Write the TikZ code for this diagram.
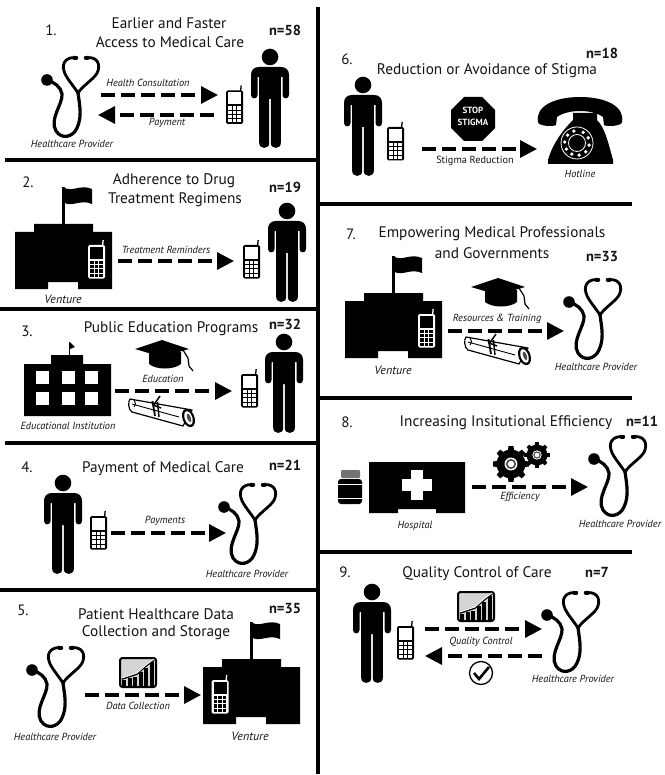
\documentclass[tikz,border=0pt]{standalone}
\usepackage{fontspec}
\setmainfont{PT Sans}
\usetikzlibrary{arrows.meta}
\definecolor{ink}{HTML}{141414}
\tikzset{
  rule/.style={line width=3.2pt,black},
  conn/.style={line width=3.2pt,black,dash pattern=on 14pt off 6pt,-{Triangle[length=17pt,width=17pt]}},
  ttl/.style={font=\fontsize{15.3}{15.3}\selectfont,text=ink,inner sep=0pt},
  num/.style={font=\fontsize{15}{15}\selectfont,text=ink,inner sep=0pt},
  cnt/.style={font=\fontsize{14.5}{14.5}\selectfont\bfseries,text=ink,inner sep=0pt},
  lab/.style={font=\fontsize{10.3}{10.3}\selectfont\itshape,text=ink,inner sep=0pt},
  bigLab/.style={font=\fontsize{12}{12}\selectfont\itshape,text=ink,inner sep=0pt},
  pics/person/.style={code={
    \fill[black] (0,8) circle[radius=8.3];
    \fill[black] (-11,18) .. controls (-16,18) and (-19,21) .. (-19,26) -- (-19,46)
      .. controls (-19,50.5) and (-12.5,50.5) .. (-12.5,46) -- (-12.5,28) -- (-10.8,28) -- (-10.8,94)
      .. controls (-10.8,100.5) and (-0.8,100.5) .. (-0.8,94) -- (-0.8,50) -- (0.8,50) -- (0.8,94)
      .. controls (0.8,100.5) and (10.8,100.5) .. (10.8,94) -- (10.8,28) -- (12.5,28) -- (12.5,46)
      .. controls (12.5,50.5) and (19,50.5) .. (19,46) -- (19,26)
      .. controls (19,21) and (16,18) .. (11,18) -- cycle;
  }},
  pics/handset/.style 2 args={code={
    \fill[#1,rounded corners=1.5pt] (0,0) rectangle (17,33.5);
    \draw[#1,line width=1.3pt] (14.5,1) -- (15.2,-5);
    \fill[#2] (2,2) rectangle (15,14);
    \foreach \r in {0,1,2,3}{\foreach \c in {0,1,2}{
      \fill[#2] ({2.2+\c*4.4},{16+\r*4.2}) rectangle ++(3.6,3.2);
    }}
  }},
  pics/steth/.style={code={
    \draw[black,line width=2.8pt,line cap=round]
      (-5,1) .. controls (-14,-1) and (-21,5) .. (-18,14) .. controls (-16,21) and (-9,28) .. (-4,36);
    \draw[black,line width=2.8pt,line cap=round]
      (3,1) .. controls (12,-1) and (19,4) .. (16,14) .. controls (14,21) and (1,28) .. (-4,36);
    \draw[black,line width=3.8pt] (-9,0.8) -- (-4.5,1);
    \draw[black,line width=3.8pt] (2.5,1) -- (7,0.8);
    \draw[black,line width=3.2pt,line cap=round]
      (-4,36) .. controls (-2,50) and (0,60) .. (-5,71) .. controls (-9,80) and (-20,83) .. (-26,74)
      .. controls (-33,62) and (-19,47) .. (-20,37) .. controls (-21,30) and (-28,25) .. (-35,23);
    \fill[black] (-35,23) circle[radius=5.8];
  }},
  pics/venture/.style={code={
    \fill[black] (0,8) -- (19,8) -- (19,0) -- (78,0) -- (78,8) -- (97,8) -- (97,65) -- (63,65) -- (63,58)
      -- (33,58) -- (33,65) -- (0,65) -- cycle;
    \fill[black] (47,-37) rectangle (49.5,0);
    \fill[black] (49.5,-36) .. controls (58,-32) and (66,-40) .. (77,-35) -- (77,-20)
      .. controls (66,-25) and (58,-17) .. (49.5,-21) -- cycle;
  }},
  pics/gradcap/.style={code={
    \fill[black] (-27,9) -- (0,0) -- (27,9) -- (0,17) -- cycle;
    \fill[black] (-13,12) -- (-13,24) .. controls (-6,30) and (12,30) .. (19,24) -- (19,12) -- cycle;
    \draw[black,line width=1.2pt] (21,10) -- (26,18) -- (27,26) -- (31,31);
  }},
  pics/diploma/.style={code={
    \draw[black,fill=white,line width=1.2pt,line join=round] (1,3) -- (63,14) -- (54,30) -- (3,16)
      .. controls (-1,14) and (-1,5) .. (1,3) -- cycle;
    \draw[black,line width=.9pt] (3,8) -- (50,21);
    \draw[black,line width=.9pt] (5,11) .. controls (7,8) and (7,6) .. (5,4);
    \draw[black,line width=1.8pt] (23.5,5) -- (26,20);
    \draw[black,line width=1.4pt] (28.5,6) -- (30,21);
    \draw[black,line width=1.5pt] (31,0) -- (24,10);
    \draw[black,line width=1.5pt] (24,9) -- (32,12);
    \fill[black,rotate around={20:(59.5,22)}] (59.5,22) ellipse[x radius=6,y radius=9.5];
    \fill[white,rotate around={20:(59.5,22)}] (59.5,22) ellipse[x radius=3.8,y radius=7];
    \fill[black!70,rotate around={20:(59.5,22)}] (60,22) ellipse[x radius=1.8,y radius=4.5];
  }},
  pics/chart/.style={code={
    \draw[black,fill=black!17,line width=2pt,rounded corners=2.5pt] (1,1) rectangle (37,30);
    \foreach \i/\h in {0/6,1/8,2/9,3/14,4/18,5/24}{
      \fill[black] ({3+\i*5.5},29) rectangle ++(4.2,{-\h});
    }
    \draw[black,line width=1.6pt] (3,22) -- (12,19) -- (18,17) -- (27,9) -- (35,3);
    \draw[white,line width=.8pt] (3,21) -- (12,18) -- (18,16) -- (27,8) -- (35,2);
  }},
  pics/gear/.style={code={
    \foreach \a in {0,45,...,315}{
      \fill[black] (\a-13:{.76*#1}) -- (\a-8:{#1}) -- (\a+8:{#1}) -- (\a+13:{.76*#1}) -- cycle;
    }
    \fill[black] (0,0) circle[radius={.8*#1}];
    \fill[white] (0,0) circle[radius={.36*#1}];
    \fill[black!75] (0,0) circle[radius={.28*#1}];
    \fill[white] (0,0) circle[radius={.18*#1}];
  }},
}
\begin{document}
\begin{tikzpicture}[x=1pt,y=-1pt]
\useasboundingbox (0,0) rectangle (664,775);
\fill[white] (0,0) rectangle (664,775);

% frame
\coordinate (vt) at (318,7); \coordinate (vb) at (318,774);
\draw[rule] (vt) -- (vb);
\coordinate (h1a) at (5,160);  \coordinate (h1b) at (318,160);  \draw[rule] (h1a) -- (h1b);
\coordinate (h2a) at (0,309);  \coordinate (h2b) at (318,309);  \draw[rule] (h2a) -- (h2b);
\coordinate (h3a) at (5,443);  \coordinate (h3b) at (318,443);  \draw[rule] (h3a) -- (h3b);
\coordinate (h4a) at (0,590);  \coordinate (h4b) at (318,590);  \draw[rule] (h4a) -- (h4b);
\coordinate (h5a) at (318,204); \coordinate (h5b) at (632,204); \draw[rule] (h5a) -- (h5b);
\coordinate (h6a) at (318,398); \coordinate (h6b) at (632,398); \draw[rule] (h6a) -- (h6b);
\coordinate (h7a) at (318,552); \coordinate (h7b) at (632,552); \draw[rule] (h7a) -- (h7b);

% people
\pic at (270,49) {person};
\pic at (287,203) {person};
\pic at (284,334) {person};
\pic at (63,475) {person};
\pic at (363,77) {person};
\pic at (372,584) {person};

% stethoscopes
\pic at (82,57) {steth};
\pic at (259,484) {steth};
\pic at (67,647) {steth};
\pic at (604,279) {steth};
\pic at (629,436) {steth};
\pic at (582,592) {steth};

% ventures
\pic at (15,224) {venture};
\pic at (203,659) {venture};
\pic at (345,293) {venture};

% phones
\pic at (226,90.5) {handset={black}{white}};
\pic at (243,245) {handset={black}{white}};
\pic at (241,374) {handset={black}{white}};
\pic at (90,516) {handset={black}{white}};
\pic at (387,127) {handset={black}{white}};
\pic at (397,626) {handset={black}{white}};
\pic at (88,245) {handset={white}{black}};
\pic at (211.5,680) {handset={white}{black}};
\pic at (418,314) {handset={white}{black}};

% school
\fill[black] (24,364) -- (51,364) -- (51,355) -- (83,355) -- (83,364) -- (111,364) -- (111,416) -- (24,416) -- cycle;
\fill[black] (68.5,342) rectangle (70,355);
\fill[black] (70,342) -- (75,347) -- (70,349) -- cycle;
\foreach \wx in {36,62,85}{\foreach \wy in {371,392}{
  \fill[white] (\wx,\wy) rectangle ++(13,13);
}}

% hospital and jar
\fill[black] (369,462) -- (465,462) -- (465,513) -- (436,513) -- (436,509) -- (398,509) -- (398,513) -- (369,513) -- cycle;
\fill[white] (411,470) rectangle (423,500);
\fill[white] (402,479) rectangle (432,491);
\fill[black!55,rounded corners=1pt] (341,470) rectangle (360,478);
\fill[black,rounded corners=3pt] (338,479) rectangle (362,504);
\fill[white] (338,484) rectangle (362,485);
\fill[white] (338,497.5) rectangle (362,498.5);

% caps, diplomas, charts
\pic at (162,340) {gradcap};
\pic at (498,278) {gradcap};
\pic at (129,396) {diploma};
\pic at (465,334) {diploma};
\pic at (119,657) {chart};
\pic at (457,591) {chart};

% stop sign
\fill[black] (464,97) -- (482,97) -- (495,110) -- (495,128) -- (482,141) -- (464,141) -- (451,128) -- (451,110) -- cycle;
\node[inner sep=0pt,align=center,text=white,font=\fontsize{9}{12}\selectfont\bfseries] (stoptxt) at (473,116) {STOP\\STIGMA};

% hotline telephone
\fill[black] (538,122) .. controls (535,106) and (555,97) .. (580,97) .. controls (605,97) and (625,106) .. (622,122)
  .. controls (622,126) and (607,127) .. (604,125) -- (603,117) .. controls (592,109) and (568,109) .. (557,117)
  -- (556,125) .. controls (553,127) and (538,126) .. (538,122) -- cycle;
\fill[black] (573,113) -- (573,120) .. controls (565,128) and (553,142) .. (548,160) -- (548,164) -- (613,164)
  -- (613,160) .. controls (608,142) and (605,128) .. (597,120) -- (597,113) -- cycle;
\begin{scope}[shift={(577,143)}]
  \draw[white,line width=.8pt] (0,0) circle[radius=16];
  \draw[white,line width=.8pt] (0,0) circle[radius=8.5];
  \foreach \a in {-60,-25,10,45,80,115,150,185,220,255}{
    \fill[white] (\a:12.3) circle[radius=1.9];
  }
\end{scope}

% gears and check mark
\pic at (511,464) {gear=18};
\pic at (537,455) {gear=13};
\draw[black,fill=white,line width=1.3pt] (481,673) circle[radius=11.5];
\draw[black,line width=2.6pt] (474,673) -- (479,679) -- (489,667);

% connectors
\coordinate (c1a) at (101,95);  \coordinate (c1b) at (218,95);  \draw[conn] (c1a) -- (c1b);
\coordinate (c1c) at (214,115); \coordinate (c1d) at (98,115);  \draw[conn] (c1c) -- (c1d);
\coordinate (c2a) at (118,261); \coordinate (c2b) at (234,261); \draw[conn] (c2a) -- (c2b);
\coordinate (c3a) at (115,391); \coordinate (c3b) at (232,391); \draw[conn] (c3a) -- (c3b);
\coordinate (c4a) at (111,533); \coordinate (c4b) at (226,533); \draw[conn] (c4a) -- (c4b);
\coordinate (c5a) at (85,695);  \coordinate (c5b) at (201,695); \draw[conn] (c5a) -- (c5b);
\coordinate (c6a) at (422,149); \coordinate (c6b) at (537,149); \draw[conn] (c6a) -- (c6b);
\coordinate (c7a) at (448,331); \coordinate (c7b) at (564,331); \draw[conn] (c7a) -- (c7b);
\coordinate (c8a) at (472,487); \coordinate (c8b) at (588,487); \draw[conn] (c8a) -- (c8b);
\coordinate (c9a) at (425,629); \coordinate (c9b) at (542,629); \draw[conn] (c9a) -- (c9b);
\coordinate (c9c) at (542,656); \coordinate (c9d) at (425,656); \draw[conn] (c9c) -- (c9d);

% panel 1
\node[num] (p1) at (51,30) {1.};
\node[ttl] (t1a) at (169,23) {Earlier and Faster};
\node[ttl] (t1b) at (170,42) {Access to Medical Care};
\node[cnt] (n1) at (285,30) {n=58};
\node[lab] (l1a) at (148,83) {Health Consultation};
\node[lab] (l1b) at (167,123) {Payment};
\node[lab] (l1c) at (72,144) {Healthcare Provider};
% panel 2
\node[num] (p2) at (28,182) {2.};
\node[ttl] (t2a) at (174,181) {Adherence to Drug};
\node[ttl] (t2b) at (175,200) {Treatment Regimens};
\node[cnt] (n2) at (285,187) {n=19};
\node[lab] (l2a) at (166,250) {Treatment Reminders};
\node[bigLab] (l2b) at (63,299) {Venture};
% panel 3
\node[num] (p3) at (27,331) {3.};
\node[ttl] (t3) at (171,329) {Public Education Programs};
\node[cnt] (n3) at (285,324) {n=32};
\node[lab] (l3a) at (163,379) {Education};
\node[lab] (l3b) at (68,426) {Educational Institution};
% panel 4
\node[num] (p4) at (27,467) {4.};
\node[ttl] (t4) at (163,469) {Payment of Medical Care};
\node[cnt] (n4) at (285,465) {n=21};
\node[lab] (l4a) at (165,521) {Payments};
\node[lab] (l4b) at (247,574) {Healthcare Provider};
% panel 5
\node[num] (p5) at (23,610) {5.};
\node[ttl] (t5a) at (156,614) {Patient Healthcare Data};
\node[ttl] (t5b) at (156,633) {Collection and Storage};
\node[cnt] (n5) at (285,609) {n=35};
\node[lab] (l5a) at (138,706) {Data Collection};
\node[lab] (l5b) at (55,737) {Healthcare Provider};
\node[bigLab] (l5c) at (250,736) {Venture};
% panel 6
\node[num] (p6) at (347,59) {6.};
\node[ttl] (t6) at (487,71) {Reduction or Avoidance of Stigma};
\node[cnt] (n6) at (602,53) {n=18};
\node[lab,font=\fontsize{10.3}{10.3}\selectfont] (l6a) at (475,161) {Stigma Reduction};
\node[lab] (l6b) at (580,174) {Hotline};
% panel 7
\node[num] (p7) at (351,234) {7.};
\node[ttl] (t7a) at (492,234) {Empowering Medical Professionals};
\node[ttl] (t7b) at (492,253) {and Governments};
\node[cnt] (n7) at (602,257) {n=33};
\node[lab] (l7a) at (497,319) {Resources \& Training};
\node[bigLab] (l7b) at (393,370) {Venture};
\node[lab] (l7c) at (596,367) {Healthcare Provider};
% panel 8
\node[num] (p8) at (347,422) {8.};
\node[ttl] (t8) at (506,423) {Increasing Insitutional Efficiency};
\node[cnt] (n8) at (642,421) {n=11};
\node[lab] (l8a) at (520,497) {Efficiency};
\node[lab] (l8b) at (415,526) {Hospital};
\node[lab] (l8c) at (620,524) {Healthcare Provider};
% panel 9
\node[num] (p9) at (345,572) {9.};
\node[ttl] (t9) at (477,574) {Quality Control of Care};
\node[cnt] (n9) at (597,572) {n=7};
\node[lab] (l9a) at (481,642) {Quality Control};
\node[lab] (l9b) at (573,679) {Healthcare Provider};
\end{tikzpicture}
\end{document}
